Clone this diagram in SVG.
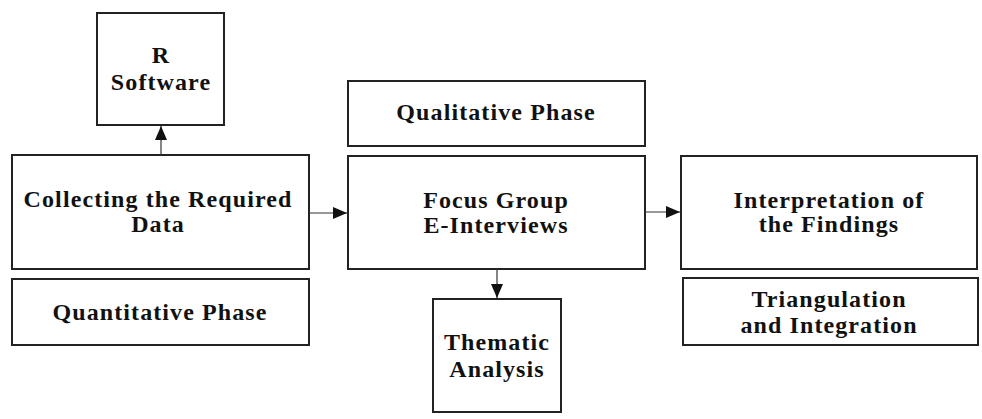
<svg xmlns="http://www.w3.org/2000/svg" width="982" height="419" viewBox="0 0 982 419">
<defs>
<marker id="ah" markerWidth="14" markerHeight="12" refX="14" refY="6" orient="auto" markerUnits="userSpaceOnUse" viewBox="0 0 14 12">
<path d="M0,0 L14,6 L0,12 z" fill="#111"/>
</marker>
</defs>
<style>
.box{fill:#fff;stroke:#222;stroke-width:2}
.t{font-family:'Liberation Serif','Times New Roman',serif;font-weight:bold;font-size:24px;letter-spacing:1.1px;fill:#111;text-anchor:middle}
.c{stroke:#333;stroke-width:1.2;fill:none;marker-end:url(#ah)}
</style>
<rect width="982" height="419" fill="#fff"/>
<g id="r-software"><rect class="box" x="97" y="13" width="127" height="112"/><text class="t" x="161" y="63">R</text><text class="t" x="161" y="90">Software</text></g>
<g id="collecting"><rect class="box" x="12" y="155" width="297" height="114"/><text class="t" x="158" y="207">Collecting the Required</text><text class="t" x="158" y="232">Data</text></g>
<g id="quant"><rect class="box" x="12" y="279" width="297" height="66"/><text class="t" x="160" y="320">Quantitative Phase</text></g>
<g id="qual"><rect class="box" x="348" y="81" width="297" height="65"/><text class="t" x="496" y="120">Qualitative Phase</text></g>
<g id="focus"><rect class="box" x="348" y="156" width="297" height="113"/><text class="t" x="496" y="208">Focus Group</text><text class="t" x="496" y="233">E-Interviews</text></g>
<g id="thematic"><rect class="box" x="433" y="299" width="128" height="113"/><text class="t" x="497" y="350">Thematic</text><text class="t" x="497" y="377">Analysis</text></g>
<g id="interp"><rect class="box" x="681" y="156" width="296" height="113"/><text class="t" x="829" y="208">Interpretation of</text><text class="t" x="829" y="232">the Findings</text></g>
<g id="triang"><rect class="box" x="683" y="278" width="295" height="67"/><text class="t" x="829" y="307">Triangulation</text><text class="t" x="829" y="333">and Integration</text></g>
<g id="connectors">
<line class="c" x1="161" y1="155" x2="161" y2="126"/>
<line class="c" x1="309" y1="213" x2="347" y2="213"/>
<line class="c" x1="497" y1="269" x2="497" y2="298"/>
<line class="c" x1="645" y1="212" x2="680" y2="212"/>
</g>
</svg>
